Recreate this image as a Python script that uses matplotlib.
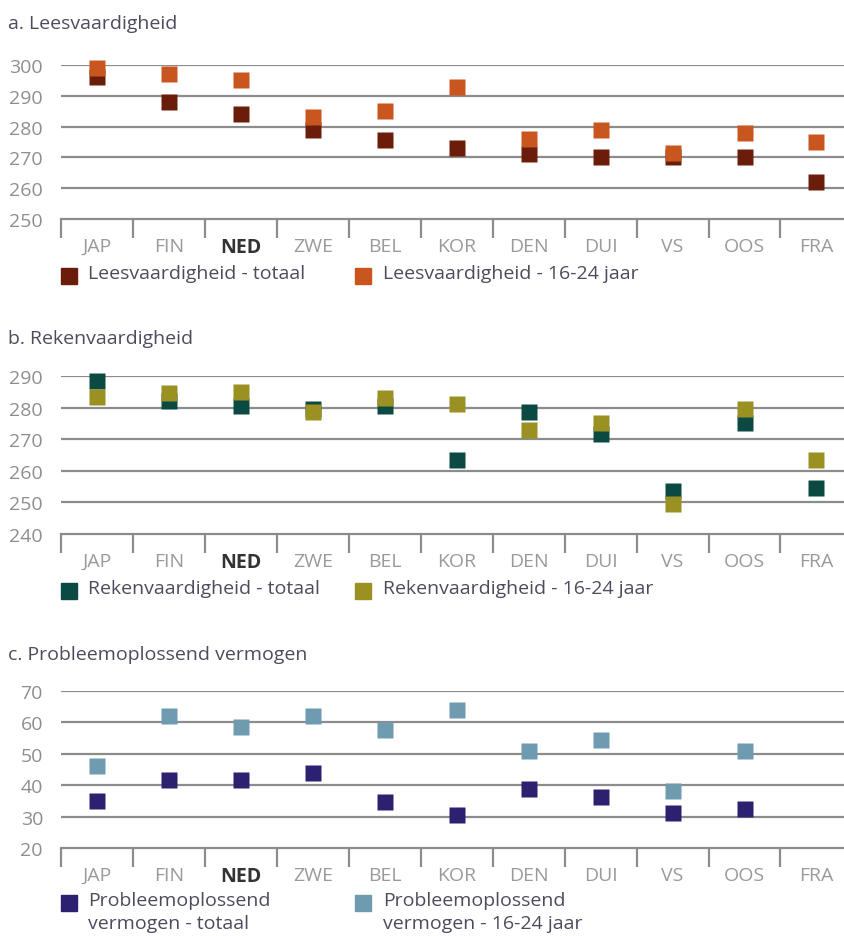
import numpy as np
import matplotlib.pyplot as plt
from matplotlib.patches import Rectangle

# --- data ---------------------------------------------------------
landen = ['JAP', 'FIN', 'NED', 'ZWE', 'BEL', 'KOR', 'DEN', 'DUI', 'VS', 'OOS', 'FRA']

lees_totaal = [296, 288, 284, 279, 275.5, 273, 271, 270, 270, 270, 262]
lees_jong   = [299, 297, 295, 283, 285, 293, 276, 279, 271.5, 278, 275]

reken_totaal = [288.5, 282, 280.5, 279.5, 280.5, 263.5, 278.5, 271.5, 253.5, 275, 254.5]
reken_jong   = [283.5, 284.5, 285, 278.5, 283, 281, 273, 275, 249.5, 279.5, 263.5]

probleem_totaal = [35, 41.8, 41.8, 44, 34.8, 30.6, 38.8, 36.2, 31.2, 32.5, np.nan]
probleem_jong   = [46.2, 62, 58.5, 62, 57.5, 63.8, 50.8, 54.5, 38, 51, np.nan]

panels = [
    dict(titel='a. Leesvaardigheid', tot=lees_totaal, jong=lees_jong,
         ylim=(250, 300), kleuren=('#6b1d0c', '#c9561f'),
         labels=('Leesvaardigheid - totaal', 'Leesvaardigheid - 16-24 jaar'),
         top=66, bottom=220, title_y=24, leg_y=277),
    dict(titel='b. Rekenvaardigheid', tot=reken_totaal, jong=reken_jong,
         ylim=(240, 290), kleuren=('#0b4a42', '#9b9123'),
         labels=('Rekenvaardigheid - totaal', 'Rekenvaardigheid - 16-24 jaar'),
         top=377, bottom=535, title_y=339, leg_y=592),
    dict(titel='c. Probleemoplossend vermogen', tot=probleem_totaal, jong=probleem_jong,
         ylim=(20, 70), kleuren=('#2b2170', '#6f9bb0'),
         labels=('Probleemoplossend\nvermogen - totaal', 'Probleemoplossend\nvermogen - 16-24 jaar'),
         top=692, bottom=849, title_y=655, leg_y=904),
]

W, H = 844, 937
plt.rcParams['font.family'] = ['Open Sans', 'DejaVu Sans']
fig = plt.figure(figsize=(W / 100, H / 100), dpi=100)

grijs = '#8c8c8c'
tekst = '#4d4b5c'
fs = 14
x = np.arange(len(landen))

for p in panels:
    left = 61 / W
    ax = fig.add_axes([left, 1 - p['bottom'] / H, 1 - left + 0.01, (p['bottom'] - p['top']) / H])
    ax.set_xlim(-0.5, len(landen) - 0.5)
    ax.set_ylim(*p['ylim'])
    lo, hi = p['ylim']
    for v in range(lo + 10, hi + 1, 10):
        ax.axhline(v, color=grijs, lw=1.6, zorder=1)
    ax.plot(x, p['tot'], 's', ms=11.5, color=p['kleuren'][0], mec='none', zorder=3, clip_on=False)
    ax.plot(x, p['jong'], 's', ms=11.5, color=p['kleuren'][1], mec='none', zorder=4, clip_on=False)

    for s in ['top', 'right', 'left']:
        ax.spines[s].set_visible(False)
    ax.spines['bottom'].set_color(grijs)
    ax.spines['bottom'].set_linewidth(1.6)

    ax.set_yticks(range(lo, hi + 1, 10))
    ax.tick_params(axis='y', length=0, pad=13, labelsize=fs, labelcolor='#8e8e8e')
    ax.set_xticks(x)
    ax.set_xticklabels(landen)
    ax.set_xticks(np.arange(-0.5, len(landen), 1), minor=True)
    ax.tick_params(axis='x', which='major', length=0, pad=13, labelsize=fs, labelcolor='#9a9a9a')
    ax.tick_params(axis='x', which='minor', length=14, width=1.6, color=grijs)
    for lab in ax.get_xticklabels():
        if lab.get_text() == 'NED':
            lab.set_fontweight('bold')
            lab.set_color('#333333')

    fig.text(8 / W, 1 - p['title_y'] / H, p['titel'], fontsize=fs, color=tekst, va='center')

    # legenda
    for (lx, tx), kleur, label in zip([(61, 88), (355, 383)], p['kleuren'], p['labels']):
        fig.patches.append(Rectangle((lx / W, 1 - (p['leg_y'] + 8) / H), 16 / W, 16 / H,
                                     transform=fig.transFigure, color=kleur))
        fig.text(tx / W, 1 - (p['leg_y'] - 12) / H, label, fontsize=fs, color=tekst,
                 va='top', linespacing=1.35)

fig.savefig('out.png', dpi=100)
